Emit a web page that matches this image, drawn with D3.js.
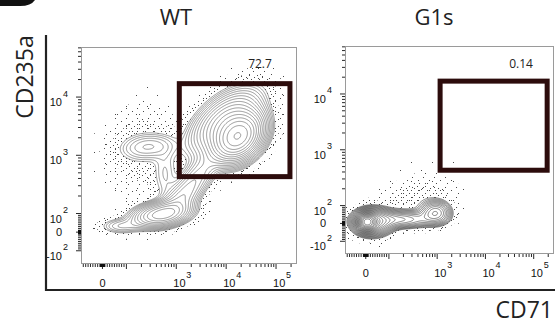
<!DOCTYPE html>
<html><head><meta charset="utf-8">
<script src="https://cdn.jsdelivr.net/npm/d3@7"></script>
<style>html,body{margin:0;padding:0;background:#fff;} svg{display:block;}</style>
</head><body>
<svg id="chart" width="555" height="324"></svg>
<script>
// ---------------- data ----------------
const panelNames = ["WT", "G1s"];
const gatePercent = ["72.7", "0.14"];
const gateCD71 = [1150, 190000];
const gateCD235a = [430, 17000];

// populations: centre (CD71, CD235a), spread in display decades, correlation, relative peak height
const wtCD71    = [17400, 9500, 2400, 275, 500, 75, 190, 1200, 600];
const wtCD235a  = [2080, 3800, 380, 1400, 95, 32, 1240, 170, 460];
const wtSpreadX = [0.26, 0.38, 0.3, 0.32, 0.31, 0.24, 0.4, 0.22, 0.15];
const wtSpreadY = [0.22, 0.3, 0.3, 0.13, 0.12, 0.08, 0.45, 0.18, 0.3];
const wtCorr    = [0.3, 0.55, 0.75, 0.15, 0.3, 0.0, 0.1, 0.5, 0.0];
const wtWeight  = [1.0, 0.25, 0.1, 0.06, 0.35, 0.05, 0.012, 0.08, 0.03];

const g1CD71    = [6, 28, 168, 930, 347, 690];
const g1CD235a  = [8, 8, 22, 60, 136, 288];
const g1SpreadX = [0.1, 0.22, 0.4, 0.18, 0.45, 0.5];
const g1SpreadY = [0.08, 0.13, 0.09, 0.12, 0.2, 0.35];
const g1Corr    = [0, 0, 0, 0, 0.3, 0];
const g1Weight  = [1.0, 0.3, 0.12, 0.14, 0.012, 0.0015];

const xTickValues = [0, 1000, 10000, 100000];
const xTickBase   = ["0", "10", "10", "10"];
const xTickExp    = ["", "3", "4", "5"];
const yTickValues = [-100, 0, 100, 1000, 10000];
const yTickBase   = ["-10", "0", "10", "10", "10"];
const yTickExp    = ["2", "", "2", "3", "4"];

// ---------------- layout / styles ----------------
const layout = [
  {x0: 81, x1: 296, y0: 47, y1: 263, titleX: 176, pctX: 260, stroke: "#555", ratio: 1.28},
  {x0: 345, x1: 553, y0: 46, y1: 253, titleX: 434, pctX: 521, stroke: "#333", ratio: 1.22}
];
const AX = 0.48, AY = 0.32;           // linear half-width of the biexponential display (decades)
const U_X = [-0.43, 3.88], U_Y = [-0.53, 3.18];
function biex(v, a) {
  const m = Math.abs(v);
  return m <= 100 ? v / 100 * a : Math.sign(v) * (a + Math.log10(m / 100));
}

const svg = d3.select("#chart");
const defs = svg.append("defs");
function makePattern(id, w, h, pts) {
  const p = defs.append("pattern").attr("id", id).attr("patternUnits", "userSpaceOnUse")
    .attr("width", w).attr("height", h);
  pts.forEach(([x, y]) => p.append("rect").attr("x", x).attr("y", y).attr("width", 1).attr("height", 1).attr("fill", "#4a4a4a"));
}
makePattern("dDense", 8, 7, [[0, 0], [5, 2], [2, 4]]);
makePattern("dMed", 11, 10, [[1, 1], [7, 4], [3, 7]]);
makePattern("dSparse", 21, 19, [[3, 2], [13, 10]]);

// panel label remnant (top-left)
svg.append("path").attr("d", "M0,0 H35 Q31,6 20,6 H0 Z").attr("fill", "#111");

const comps = [
  wtCD71.map((c, i) => ({cx: c, cy: wtCD235a[i], sx: wtSpreadX[i], sy: wtSpreadY[i], r: wtCorr[i], w: wtWeight[i]})),
  g1CD71.map((c, i) => ({cx: c, cy: g1CD235a[i], sx: g1SpreadX[i], sy: g1SpreadY[i], r: g1Corr[i], w: g1Weight[i]}))
];
const baseLevel = [0.02, 0.02];

panelNames.forEach((name, pi) => {
  const L = layout[pi];
  const xs = d3.scaleLinear().domain(U_X).range([L.x0, L.x1]);
  const ys = d3.scaleLinear().domain(U_Y).range([L.y1, L.y0]);
  const X = v => xs(biex(v, AX)), Y = v => ys(biex(v, AY));
  const nx = L.x1 - L.x0, ny = L.y1 - L.y0;
  const cs = comps[pi].map(c => ({mx: biex(c.cx, AX), my: biex(c.cy, AY), sx: c.sx, sy: c.sy, r: c.r, w: c.w}));
  const vals = new Float64Array(nx * ny);
  let vmax = 0;
  for (let j = 0; j < ny; j++) {
    const uy = ys.invert(L.y0 + j + 0.5);
    for (let i = 0; i < nx; i++) {
      const ux = xs.invert(L.x0 + i + 0.5);
      let d = 0;
      for (const c of cs) {
        const dx = (ux - c.mx) / c.sx, dy = (uy - c.my) / c.sy;
        const q = (dx * dx - 2 * c.r * dx * dy + dy * dy) / (1 - c.r * c.r);
        d += c.w * Math.exp(-q / 2);
      }
      vals[j * nx + i] = d;
      if (d > vmax) vmax = d;
    }
  }
  const clipId = "clip" + pi;
  defs.append("clipPath").attr("id", clipId).append("rect")
    .attr("x", L.x0).attr("y", L.y0).attr("width", nx).attr("height", ny);
  const gc = svg.append("g").attr("clip-path", `url(#${clipId})`);
  const inner = gc.append("g").attr("transform", `translate(${L.x0},${L.y0})`);
  const path = d3.geoPath();
  const cgen = d3.contours().size([nx, ny]);
  const L0 = baseLevel[pi];
  [[L0 * 0.03, "dSparse"], [L0 * 0.1, "dMed"], [L0 * 0.3, "dDense"]].forEach(([t, pid]) => {
    inner.append("path").attr("d", path(cgen.contour(vals, t))).attr("fill", `url(#${pid})`);
  });
  inner.append("path").attr("d", path(cgen.contour(vals, L0))).attr("fill", "#fff");
  const levels = [];
  for (let t = L0; t < vmax; t *= L.ratio) levels.push(t);
  inner.selectAll("path.c").data(cgen.thresholds(levels)(vals)).join("path")
    .attr("class", "c").attr("d", path).attr("fill", "none")
    .attr("stroke", L.stroke).attr("stroke-width", 0.6);

  // frame
  svg.append("rect").attr("x", L.x0 + 0.5).attr("y", L.y0 + 0.5).attr("width", nx).attr("height", ny)
    .attr("fill", "none").attr("stroke", "#9a9a9a").attr("stroke-width", 1);

  // ticks
  const tickSet = [];
  const mult = [1, 2, 3, 4, 5, 6, 7, 8, 9];
  [1, 10, 100, 1000, 10000, 100000].forEach(dec => mult.forEach(m => {
    tickSet.push({v: m * dec, major: m === 1 && dec >= 100});
    tickSet.push({v: -m * dec, major: m === 1 && dec >= 100});
  }));
  tickSet.push({v: 0, major: true});
  const ax = svg.append("g").attr("stroke", "#111").attr("stroke-width", 0.9);
  tickSet.forEach(t => {
    const ux = biex(t.v, AX);
    if (ux >= U_X[0] && ux <= U_X[1]) {
      const x = X(t.v);
      ax.append("line").attr("x1", x).attr("x2", x).attr("y1", L.y1 + 1).attr("y2", L.y1 + 1 + (t.major ? 5 : 3));
    }
    const uy = biex(t.v, AY);
    if (uy >= U_Y[0] && uy <= U_Y[1]) {
      const y = Y(t.v);
      ax.append("line").attr("y1", y).attr("y2", y).attr("x1", L.x0).attr("x2", L.x0 - (t.major ? 5 : 3));
    }
  });
  // tick labels
  const lab = svg.append("g").attr("font-family", "'Liberation Sans', Arial, sans-serif").attr("fill", "#111");
  xTickValues.forEach((v, i) => {
    const x = X(v);
    if (xTickExp[i] === "") {
      lab.append("text").attr("x", x).attr("y", L.y1 + 24).attr("text-anchor", "middle").attr("font-size", 11).text(xTickBase[i]);
    } else {
      lab.append("text").attr("x", x - 3).attr("y", L.y1 + 24).attr("font-size", 11).text(xTickBase[i]);
      lab.append("text").attr("x", x + 10).attr("y", L.y1 + 15).attr("font-size", 9).text(xTickExp[i]);
    }
  });
  yTickValues.forEach((v, i) => {
    const y = Y(v);
    if (yTickExp[i] === "") {
      lab.append("text").attr("x", L.x0 - 19).attr("y", y + 4).attr("text-anchor", "end").attr("font-size", 11).text(yTickBase[i]);
    } else {
      lab.append("text").attr("x", L.x0 - 19).attr("y", y + 9).attr("text-anchor", "end").attr("font-size", 11).text(yTickBase[i]);
      lab.append("text").attr("x", L.x0 - 18).attr("y", y - 0.5).attr("font-size", 9).text(yTickExp[i]);
    }
  });

  // gate
  const gx0 = X(gateCD71[0]), gx1 = X(gateCD71[1]), gy0 = Y(gateCD235a[1]), gy1 = Y(gateCD235a[0]);
  svg.append("rect").attr("x", gx0).attr("y", gy0).attr("width", gx1 - gx0).attr("height", gy1 - gy0)
    .attr("fill", "none").attr("stroke", "#2c0c0c").attr("stroke-width", 5);
  svg.append("text").attr("x", L.pctX).attr("y", 68).attr("text-anchor", "middle")
    .attr("font-family", "'Open Sans', 'Noto Sans', sans-serif").attr("font-size", 12).attr("fill", "#222").text(gatePercent[pi]);

  // title
  svg.append("text").attr("x", L.titleX).attr("y", 25).attr("text-anchor", "middle")
    .attr("font-family", "'Open Sans', 'Noto Sans', sans-serif").attr("font-size", 22).attr("fill", "#222").text(name);
});

// outer axes
svg.append("line").attr("x1", 46).attr("x2", 46).attr("y1", 35).attr("y2", 291).attr("stroke", "#222").attr("stroke-width", 2.2);
svg.append("line").attr("x1", 45).attr("x2", 555).attr("y1", 290).attr("y2", 290).attr("stroke", "#222").attr("stroke-width", 2.2);
svg.append("text").attr("transform", "translate(33,77) rotate(-90)").attr("text-anchor", "middle")
  .attr("font-family", "'Open Sans', 'Noto Sans', sans-serif").attr("font-size", 23).attr("fill", "#222").text("CD235a");
svg.append("text").attr("x", 553).attr("y", 318).attr("text-anchor", "end")
  .attr("font-family", "'Open Sans', 'Noto Sans', sans-serif").attr("font-size", 23).attr("fill", "#222").text("CD71");
</script>
</body></html>
